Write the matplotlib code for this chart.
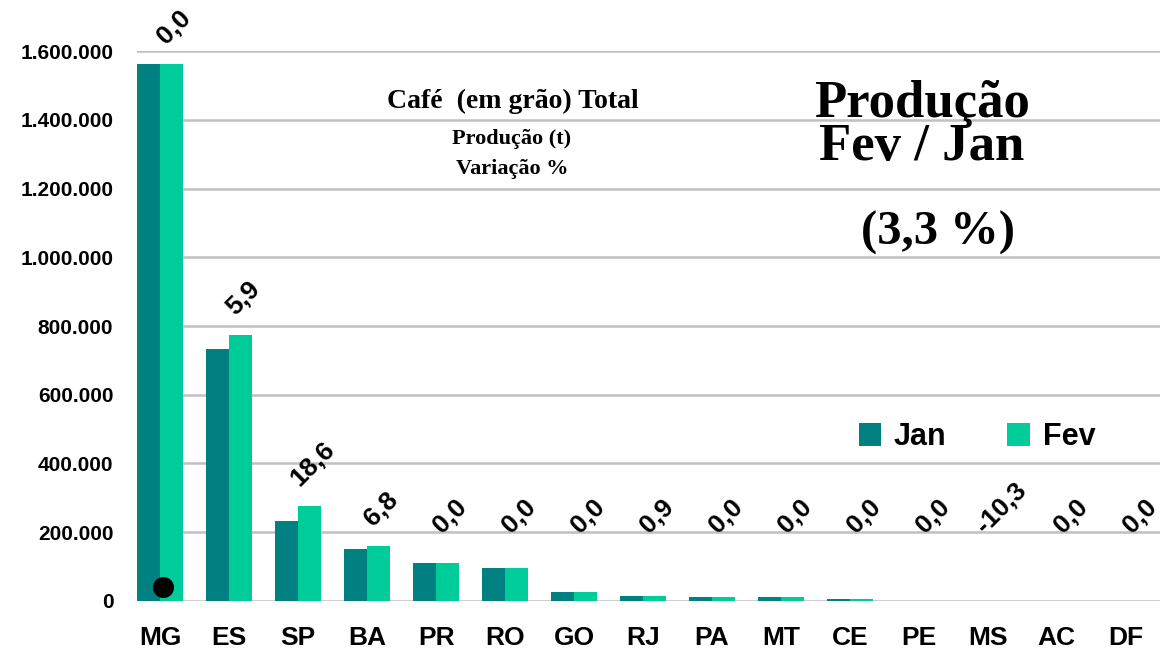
import numpy as np
import matplotlib
matplotlib.use('Agg')
import matplotlib.pyplot as plt
from matplotlib.ticker import FuncFormatter

# dados: produção de café (t) por UF, Jan e Fev
estados = ['MG', 'ES', 'SP', 'BA', 'PR', 'RO', 'GO', 'RJ', 'PA', 'MT', 'CE', 'PE', 'MS', 'AC', 'DF']
jan = [1561000, 732000, 232000, 151000, 111000, 96000, 26000, 14400, 11500, 11500, 5500, 500, 300, 100, 50]
fev = [1561000, 775000, 275000, 161300, 111000, 96000, 26000, 14500, 11500, 11500, 5500, 500, 270, 100, 50]
variacao = ['0,0', '5,9', '18,6', '6,8', '0,0', '0,0', '0,0', '0,9', '0,0', '0,0', '0,0', '0,0', '-10,3', '0,0', '0,0']
yticks = [0, 200000, 400000, 600000, 800000, 1000000, 1200000, 1400000, 1600000]

# ponto preto solto no gráfico original
dot_x = [0.04]
dot_y = [40000]

cor_jan = '#008080'
cor_fev = '#00CC99'
sans = 'Liberation Sans'
serif = 'Liberation Serif'

fig = plt.figure(figsize=(11.6, 6.5), dpi=100)
ax = fig.add_axes([0.118, 0.0754, 0.882, 0.8461])

x = np.arange(len(estados))
w = 0.335
ax.bar(x - w/2, jan, w, color=cor_jan, label='Jan', zorder=3)
ax.bar(x + w/2, fev, w, color=cor_fev, label='Fev', zorder=3)

# rótulos de variação, sobre a barra Fev
for i, v in enumerate(variacao):
    yy = max(fev[i], 140000)
    ax.annotate(v, (x[i] + w/2, yy), xytext=(2, 11), textcoords='offset points',
                ha='center', va='bottom', rotation=45, fontsize=19,
                fontweight='bold', family=sans, zorder=5, annotation_clip=False)

ax.scatter(dot_x, dot_y, s=200, color='black', zorder=6)

ax.set_xlim(-0.34, 14.5)
ax.set_ylim(0, 1600000)
ax.set_yticks(yticks)
ax.yaxis.set_major_formatter(FuncFormatter(lambda v, p: f'{int(v):,}'.replace(',', '.')))
ax.set_xticks(x)
ax.set_xticklabels(estados)
ax.grid(axis='y', color='#C0C0C0', linewidth=1.8, zorder=0)
ax.set_axisbelow(True)
for s in ax.spines.values():
    s.set_visible(False)
ax.tick_params(axis='both', length=0)
ax.tick_params(axis='x', pad=18)
ax.tick_params(axis='y', pad=17)
for lab in ax.get_xticklabels():
    lab.set_fontsize(19)
    lab.set_fontweight('bold')
    lab.set_family(sans)
for lab in ax.get_yticklabels():
    lab.set_fontsize(15)
    lab.set_fontweight('bold')
    lab.set_family(sans)

leg = ax.legend(loc='center', bbox_to_anchor=(0.821, 0.298), ncol=2, frameon=False,
                handlelength=0.75, handleheight=0.75, handletextpad=0.4, columnspacing=2.0,
                prop={'family': sans, 'weight': 'bold', 'size': 22})

# caixas de texto
fig.text(513/1160, 1 - 101/650, 'Café  (em grão) Total', ha='center', va='center',
         family=serif, fontweight='bold', fontsize=20)
fig.text(512/1160, 1 - 139/650, 'Produção (t)', ha='center', va='center',
         family=serif, fontweight='bold', fontsize=16)
fig.text(512/1160, 1 - 169/650, 'Variação %', ha='center', va='center',
         family=serif, fontweight='bold', fontsize=16)
fig.text(922/1160, 1 - 104/650, 'Produção', ha='center', va='center',
         family=serif, fontweight='bold', fontsize=38)
fig.text(922/1160, 1 - 147/650, 'Fev / Jan', ha='center', va='center',
         family=serif, fontweight='bold', fontsize=38)
fig.text(938/1160, 1 - 233/650, '(3,3 %)', ha='center', va='center',
         family=serif, fontweight='bold', fontsize=35)

fig.savefig('out.png', dpi=100)
